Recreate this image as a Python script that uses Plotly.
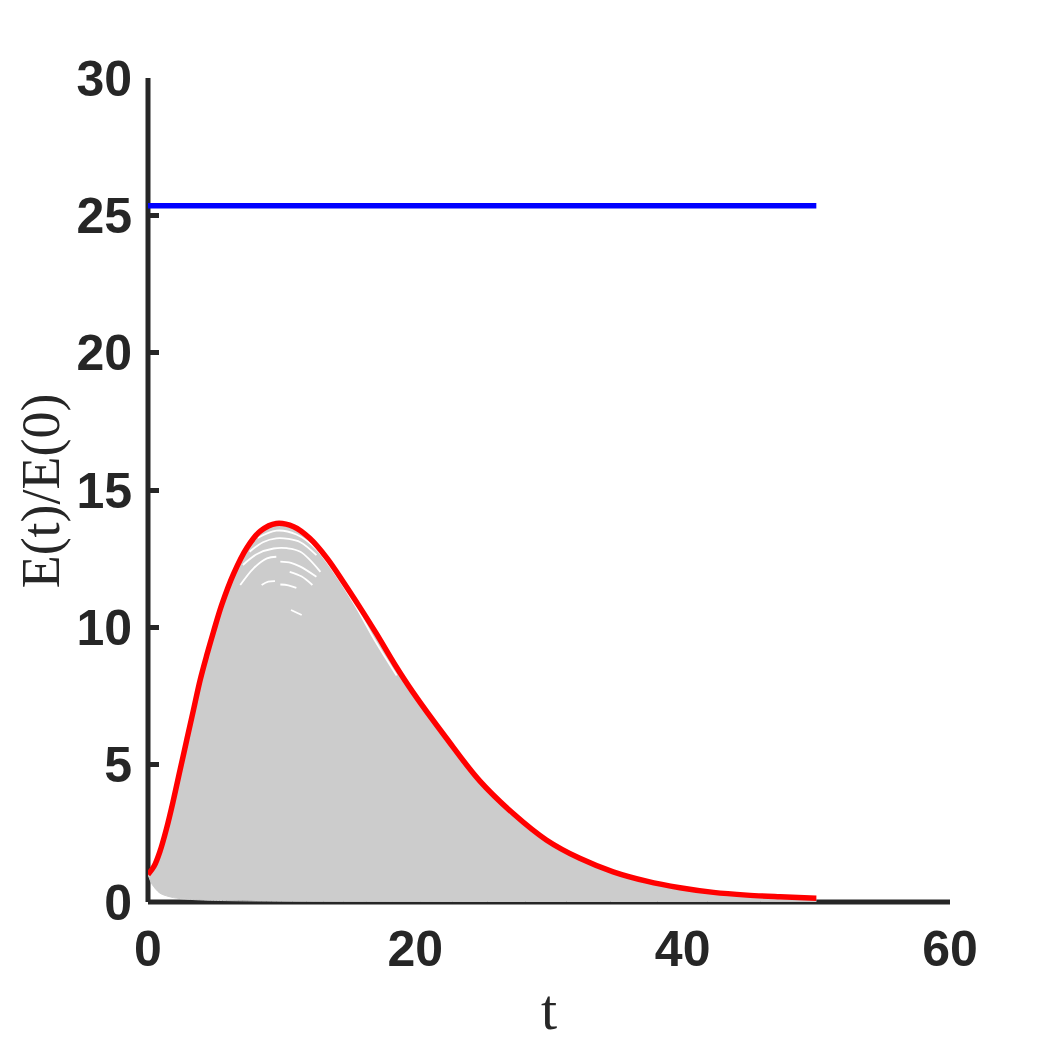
import plotly.graph_objects as go

# Envelope (red) curve: maximum energy growth E(t)/E(0)
t_max = [0, 0.45, 0.9, 1.4, 1.9, 2.4, 2.9, 3.4, 3.9, 4.4, 4.9, 5.5, 6.4, 7.4, 8.4, 9.6, 10.9,
         12.1, 13.4, 14.6, 15.9, 17.1, 18.5, 19.8, 22.3, 24.8, 27.3, 29.8, 32.3, 34.8, 37.3,
         39.8, 42.3, 44.8, 47.3, 50]
e_max = [1.0, 1.3, 1.85, 2.7, 3.71, 4.81, 5.9, 6.99, 8.08, 8.99, 9.84, 10.8, 11.95, 12.9, 13.5,
         13.78, 13.66, 13.24, 12.51, 11.66, 10.69, 9.76, 8.62, 7.65, 5.98, 4.42, 3.23, 2.26, 1.59,
         1.10, 0.76, 0.52, 0.35, 0.25, 0.19, 0.14]

# Lower edge of the gray family of trajectories
t_low = [0, 0.3, 0.9, 1.9, 3.0, 4.9, 10, 50]
e_low = [1.0, 0.65, 0.32, 0.16, 0.1, 0.06, 0.03, 0.02]

# Visible gaps between individual gray trajectories near the peak
gap_t = [[8.2, 9.6, 11.1, 12.6, 14.0, 15.5, 17.0, 18.6],
         [7.6, 8.6, 9.6, 10.5, 11.4, 12.6],
         [7.1, 8.2, 9.4, 10.4, 11.4, 12.9],
         [6.9, 7.9, 8.9, 9.6],
         [9.9, 10.7, 11.4, 12.6],
         [10.6, 11.5, 12.3],
         [8.5, 9.0, 9.5],
         [9.9, 10.5, 11.1],
         [10.7, 11.5]]
gap_e = [[13.25, 13.52, 13.38, 12.85, 11.95, 10.8, 9.5, 8.25],
         [12.75, 13.1, 13.24, 13.22, 13.1, 12.63],
         [12.27, 12.68, 12.87, 12.88, 12.75, 12.02],
         [11.54, 12.15, 12.51, 12.57],
         [12.39, 12.35, 12.21, 11.84],
         [12.02, 11.85, 11.54],
         [11.54, 11.66, 11.68],
         [11.56, 11.53, 11.44],
         [10.63, 10.45]]

# Horizontal bound (blue)
t_bound = [0, 50]
e_bound = [25.35, 25.35]

x_ticks = [0, 20, 40, 60]
y_ticks = [0, 5, 10, 15, 20, 25, 30]

AX = "#262626"

fig = go.Figure()
fig.add_trace(go.Scatter(x=t_low, y=e_low, mode="lines",
                         line=dict(color="#cccccc", width=1, shape="spline", smoothing=0.8),
                         showlegend=False, hoverinfo="skip"))
fig.add_trace(go.Scatter(x=t_max, y=e_max, mode="lines", fill="tonexty", fillcolor="#cccccc",
                         line=dict(color="#cccccc", width=1, shape="spline", smoothing=1.0),
                         showlegend=False))
for gt, ge in zip(gap_t, gap_e):
    fig.add_trace(go.Scatter(x=gt, y=ge, mode="lines",
                             line=dict(color="white", width=1.8, shape="spline", smoothing=1.0),
                             showlegend=False))
fig.add_trace(go.Scatter(x=t_max, y=e_max, mode="lines",
                         line=dict(color="#ff0000", width=5.5, shape="spline", smoothing=1.0),
                         showlegend=False))
fig.add_trace(go.Scatter(x=t_bound, y=e_bound, mode="lines", line=dict(color="#0000ff", width=5.5),
                         showlegend=False))

tickfont = dict(family="Liberation Sans, Arial", size=50, color=AX, weight="bold")

fig.update_layout(
    width=1050, height=1050,
    margin=dict(l=140, r=108, t=70, b=156),
    plot_bgcolor="rgba(0,0,0,0)", paper_bgcolor="white",
    xaxis=dict(range=[0, 60], tickvals=x_ticks, ticktext=[str(v) for v in x_ticks],
               showgrid=False, zeroline=False, showline=False, layer="below traces",
               ticks="inside", ticklen=11, tickwidth=5, tickcolor=AX, tickfont=tickfont,
               ticklabelstandoff=13),
    yaxis=dict(range=[0, 30], tickvals=y_ticks, ticktext=[str(v) for v in y_ticks],
               showgrid=False, zeroline=False, showline=False, layer="below traces",
               ticks="inside", ticklen=11, tickwidth=5, tickcolor=AX, tickfont=tickfont,
               ticklabelstandoff=15),
    shapes=[
        dict(type="line", xref="paper", yref="paper", x0=0, x1=1, y0=0, y1=0,
             line=dict(color=AX, width=5), layer="below"),
        dict(type="line", xref="paper", yref="paper", x0=0, x1=0, y0=0, y1=1,
             line=dict(color=AX, width=5), layer="below"),
    ],
    annotations=[
        dict(text="t", x=0.5, y=-0.13, xref="paper", yref="paper", xanchor="center", yanchor="middle",
             showarrow=False, font=dict(family="Liberation Serif, serif", size=58, color=AX)),
        dict(text="E(t)/E(0)", x=-0.134, y=0.499, xref="paper", yref="paper", xanchor="center",
             yanchor="middle", textangle=-90, showarrow=False,
             font=dict(family="Liberation Serif, serif", size=54, color=AX)),
    ],
)

fig.write_html("out.html")
